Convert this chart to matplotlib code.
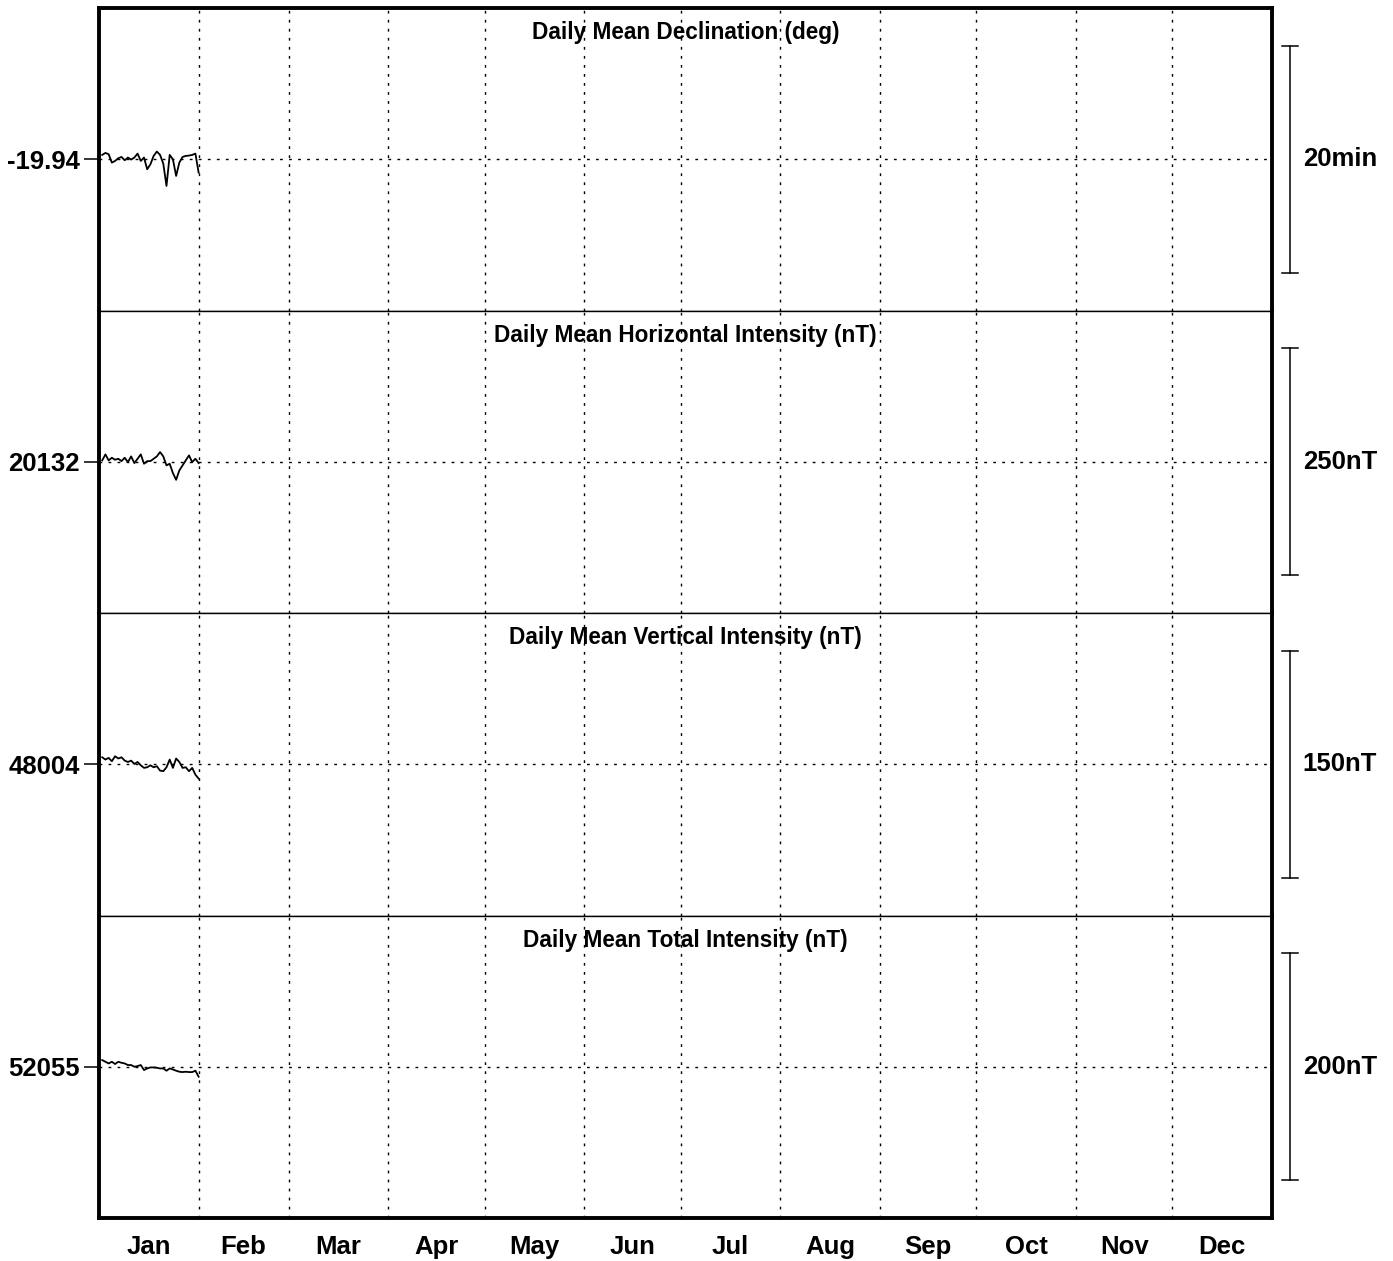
import matplotlib
matplotlib.use("Agg")
import matplotlib.pyplot as plt
import matplotlib.transforms as mtransforms
import numpy as np

plt.rcParams["font.family"] = ["Liberation Sans", "DejaVu Sans"]
plt.rcParams["font.weight"] = "bold"

# daily means for January, days 1..31
days = np.arange(1, 32)
declination = [-19.9336, -19.9307, -19.9326, -19.9449, -19.9425, -19.9385, -19.9366, -19.9415,
               -19.9375, -19.9405, -19.9375, -19.9317, -19.9425, -19.9375, -19.9547, -19.9474,
               -19.9351, -19.9287, -19.9336, -19.9464, -19.9792, -19.9336, -19.9400, -19.9645,
               -19.9449, -19.9366, -19.9351, -19.9346, -19.9336, -19.9317, -19.9596]
horizontal = [20133.5, 20140.1, 20133.5, 20136.4, 20134.2, 20135.3, 20132.7, 20136.4,
              20131.6, 20137.9, 20130.5, 20135.3, 20140.1, 20129.8, 20132.7, 20132.7,
              20135.3, 20137.9, 20142.7, 20137.9, 20128.0, 20129.8, 20119.5, 20112.1,
              20122.4, 20128.0, 20133.5, 20139.0, 20131.6, 20135.3, 20130.5]
vertical = [48008.6, 48007.1, 48008.2, 48006.0, 48009.3, 48007.8, 48008.6, 48006.4,
            48005.5, 48006.4, 48004.2, 48005.5, 48003.3, 48001.6, 48002.0, 48003.3,
            48002.0, 48002.7, 47999.8, 47999.4, 48002.0, 48007.1, 48001.6, 48007.8,
            48005.5, 48001.6, 48002.0, 47999.4, 48001.6, 47997.1, 47994.5]
total = [52060.9, 52059.4, 52057.9, 52059.4, 52057.4, 52059.4, 52058.5, 52057.9,
         52056.5, 52056.5, 52055.0, 52055.6, 52056.5, 52052.1, 52053.5, 52054.4,
         52054.4, 52054.1, 52053.5, 52053.5, 52051.5, 52053.5, 52052.6, 52051.5,
         52050.6, 52050.3, 52050.6, 52050.3, 52050.3, 52051.5, 52046.2]

titles = ["Daily Mean Declination (deg)", "Daily Mean Horizontal Intensity (nT)",
          "Daily Mean Vertical Intensity (nT)", "Daily Mean Total Intensity (nT)"]
ref_values = [-19.94, 20132, 48004, 52055]
ref_labels = ["-19.94", "20132", "48004", "52055"]
scale_sizes = [20 / 60, 250, 150, 200]   # scale bar in data units
scale_labels = ["20min", "250nT", "150nT", "200nT"]

month_days = [31, 28, 31, 30, 31, 30, 31, 31, 30, 31, 30, 31]
month_names = ["Jan", "Feb", "Mar", "Apr", "May", "Jun",
               "Jul", "Aug", "Sep", "Oct", "Nov", "Dec"]
month_edges = np.cumsum([0] + month_days)
month_mids = (month_edges[:-1] + month_edges[1:]) / 2

series = [declination, horizontal, vertical, total]

W, H = 1393, 1261
fig = plt.figure(figsize=(W / 100, H / 100), dpi=100)
left, right, top, bottom = 99 / W, 1272 / W, 1 - 8 / H, 1 - 1218 / H
ph = (top - bottom) / 4

dots = (0, (2, 4.5))
for i, (vals, title) in enumerate(zip(series, titles)):
    ax = fig.add_axes([left, top - (i + 1) * ph, right - left, ph])
    ref = ref_values[i]
    span = scale_sizes[i] / 0.75
    ax.set_xlim(0, 365)
    ax.set_ylim(ref - span / 2, ref + span / 2)
    ax.plot(days, vals, color="black", lw=1.3, zorder=3)

    for e in month_edges[1:-1]:
        ax.axvline(e, color="black", lw=1, ls=dots, zorder=1)
    ax.axhline(ref, color="black", lw=1, ls=dots, zorder=1)

    ax.set_yticks([ref])
    ax.set_yticklabels([ref_labels[i]], fontsize=18.5, fontweight="bold")
    ax.tick_params(axis="y", length=11, width=1.1, pad=3, direction="out")
    if i == 3:
        ax.set_xticks(month_mids)
        ax.set_xticklabels(month_names, fontsize=18.5, fontweight="bold")
        ax.tick_params(axis="x", length=0, pad=12)
    else:
        ax.set_xticks([])

    for s in ("left", "right"):
        ax.spines[s].set_linewidth(2.8)
    ax.spines["top"].set_linewidth(2.8 if i == 0 else 1)
    ax.spines["bottom"].set_linewidth(2.8 if i == 3 else 1)

    ax.text(0.5, 0.918, title, transform=ax.transAxes, ha="center", va="center",
            fontsize=16.3, fontweight="bold")

    # scale bar on the right
    tr = mtransforms.blended_transform_factory(ax.transAxes, ax.transData)
    bx = (1290 - 99) / (1272 - 99)
    cap = 8 / (1272 - 99)
    y0, y1 = ref - scale_sizes[i] / 2, ref + scale_sizes[i] / 2
    ax.plot([bx, bx], [y0, y1], color="black", lw=1.1, transform=tr, clip_on=False)
    for yy in (y0, y1):
        ax.plot([bx - cap, bx + cap], [yy, yy], color="black", lw=1.1,
                transform=tr, clip_on=False)
    ax.text((1340 - 99) / (1272 - 99), ref, scale_labels[i], transform=tr,
            ha="center", va="center", fontsize=18.5, fontweight="bold")

fig.savefig("out.png", dpi=100)
